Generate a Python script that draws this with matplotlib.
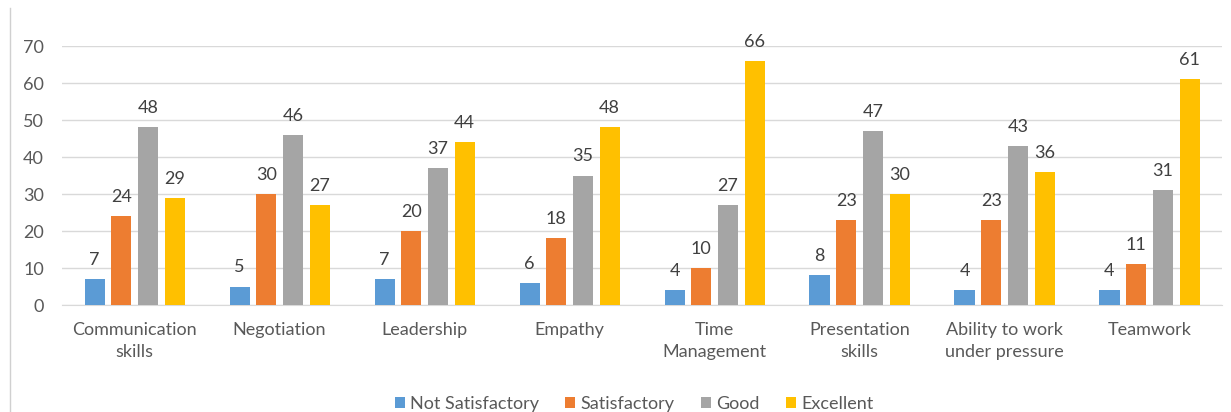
import numpy as np
import matplotlib.pyplot as plt
from matplotlib.lines import Line2D

categories = ["Communication\nskills", "Negotiation", "Leadership", "Empathy",
              "Time\nManagement", "Presentation\nskills", "Ability to work\nunder pressure", "Teamwork"]
series_names = ["Not Satisfactory", "Satisfactory", "Good", "Excellent"]
not_satisfactory = [7, 5, 7, 6, 4, 8, 4, 4]
satisfactory = [24, 30, 20, 18, 10, 23, 23, 11]
good = [48, 46, 37, 35, 27, 47, 43, 31]
excellent = [29, 27, 44, 48, 66, 30, 36, 61]
colors = ["#5B9BD5", "#ED7D31", "#A5A5A5", "#FFC000"]

plt.rcParams['font.family'] = ['Lato', 'DejaVu Sans']
text_color = "#595959"

fig = plt.figure(figsize=(12.31, 4.12), dpi=100)
ax = fig.add_axes([0.0504, 0.2597, 0.9423, 0.6286])

x = np.arange(len(categories))
width = 0.138
pitch = 0.184
all_series = [not_satisfactory, satisfactory, good, excellent]
for i, (vals, name, c) in enumerate(zip(all_series, series_names, colors)):
    pos = x + (i - 1.5) * pitch
    bars = ax.bar(pos, vals, width, color=c, label=name, zorder=3)
    for b, v in zip(bars, vals):
        ax.text(b.get_x() + b.get_width() / 2, v + 3.0, str(v), ha="center", va="bottom",
                fontsize=13, color="#404040")

ax.set_xlim(-0.5, len(categories) - 0.5)
ax.set_ylim(0, 70)
ax.set_yticks(range(0, 71, 10))
ax.set_xticks(x)
ax.set_xticklabels(categories, fontsize=13, color=text_color, linespacing=1.5)
ax.tick_params(axis="y", labelsize=13, labelcolor=text_color, length=0, pad=13)
ax.tick_params(axis="x", length=0, pad=12)
ax.grid(axis="y", color="#D9D9D9", linewidth=1, zorder=0)
for s in ["top", "right", "left"]:
    ax.spines[s].set_visible(False)
ax.spines["bottom"].set_color("#D9D9D9")

ax.legend(loc="lower center", bbox_to_anchor=(0.493, -0.475), ncol=4, frameon=False,
          fontsize=13, handlelength=0.55, handleheight=0.55, handletextpad=0.3,
          columnspacing=1.45, labelcolor=text_color)

fig.add_artist(Line2D([0.008, 0.008], [0, 0.98], color="#D0D0D0", linewidth=1))

fig.savefig("out.png", dpi=100)
